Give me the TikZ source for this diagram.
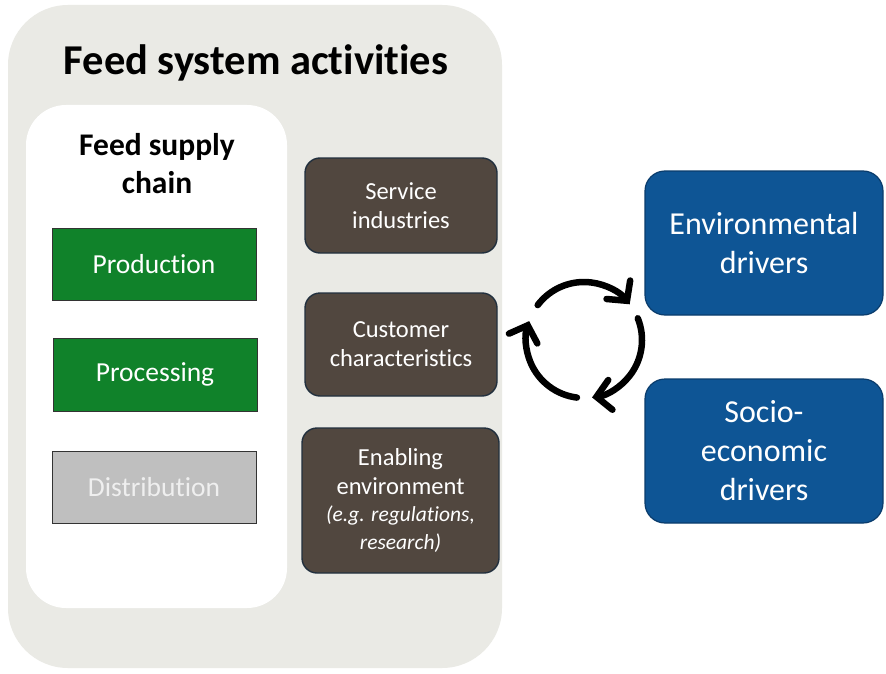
\documentclass[tikz,border=0pt]{standalone}
\usepackage{fontspec}
\setmainfont{Carlito}[Ligatures=NoCommon]
\usetikzlibrary{arrows.meta}
\definecolor{bgGray}{HTML}{EAEAE5}
\definecolor{feedGreen}{HTML}{10822A}
\definecolor{distGray}{HTML}{BFBFBF}
\definecolor{distText}{HTML}{EFEFEF}
\definecolor{brownBox}{HTML}{51473F}
\definecolor{brownLine}{HTML}{22303E}
\definecolor{driverBlue}{HTML}{0E5595}
\definecolor{driverLine}{HTML}{0A3C6C}
\tikzset{
  panel/.style={draw=none, inner sep=0pt, rounded corners=#1},
  chainbox/.style={draw=black!80, line width=0.8pt, inner sep=0pt, minimum width=204pt, minimum height=72pt,
    text=white, font=\fontsize{27.5}{30}\selectfont},
  actbox/.style={draw=brownLine, line width=1.4pt, fill=brownBox, rounded corners=15pt, inner sep=0pt,
    minimum width=192pt, text=white, align=center, font=\fontsize{24.5}{29}\selectfont},
  drvbox/.style={draw=driverLine, line width=1.2pt, fill=driverBlue, rounded corners=20pt, inner sep=0pt,
    minimum width=238pt, minimum height=144pt, text=white, align=center, font=\fontsize{32}{39}\selectfont},
  cyc/.style={line width=6.5pt, line cap=round, -{Straight Barb[length=14pt,width=30pt,line cap=round]}}
}
\begin{document}
\begin{tikzpicture}[x=1pt,y=-1pt]
\useasboundingbox (0,0) rectangle (886,674);
\fill[white] (0,0) rectangle (886,674);
% outer panel
\node[panel=60pt, fill=bgGray, minimum width=494pt, minimum height=663pt] (outer) at (255,336.5) {};
\node[font=\fontsize{42.5}{46}\selectfont\bfseries] (title) at (256,63) {Feed system activities};
% inner white panel
\node[panel=40pt, fill=white, minimum width=261pt, minimum height=503pt] (inner) at (156.5,356.5) {};
\node[font=\fontsize{31.5}{38}\selectfont\bfseries, align=center] (fsc) at (157,164) {Feed supply\\chain};
% supply chain
\node[chainbox, fill=feedGreen] (prod) at (154,264) {Production};
\node[chainbox, fill=feedGreen, minimum height=73pt] (proc) at (155,374.5) {Processing};
\node[chainbox, fill=distGray, text=distText] (dist) at (154,487) {Distribution};
% activities
\node[actbox, minimum height=95pt] (serv) at (401,205.5) {Service\\industries};
\node[actbox, minimum height=103pt] (cust) at (401,344.5) {Customer\\characteristics};
\node[actbox, minimum width=197pt, minimum height=145pt] (enab) at (400.5,500.5)
  {Enabling\\environment\\[-2pt]{\fontsize{21.5}{25}\selectfont\itshape (e.g. regulations,}\\[-1pt]{\fontsize{21.5}{25}\selectfont\itshape research)}};
% drivers
\node[drvbox] (env) at (764,243) {Environmental\\drivers};
\node[drvbox] (socio) at (764,451) {Socio-\\economic\\drivers};
% cycle
\coordinate (cyc) at (584,340);
\begin{scope}[shift={(cyc)}, yscale=-1]
  \draw[cyc] (143:58) arc[start angle=143, end angle=38, radius=58];
  \draw[cyc] (22:58) arc[start angle=22, end angle=-82, radius=58];
  \draw[cyc] (-97:58) arc[start angle=-97, end angle=-199, radius=58];
\end{scope}
\end{tikzpicture}
\end{document}
